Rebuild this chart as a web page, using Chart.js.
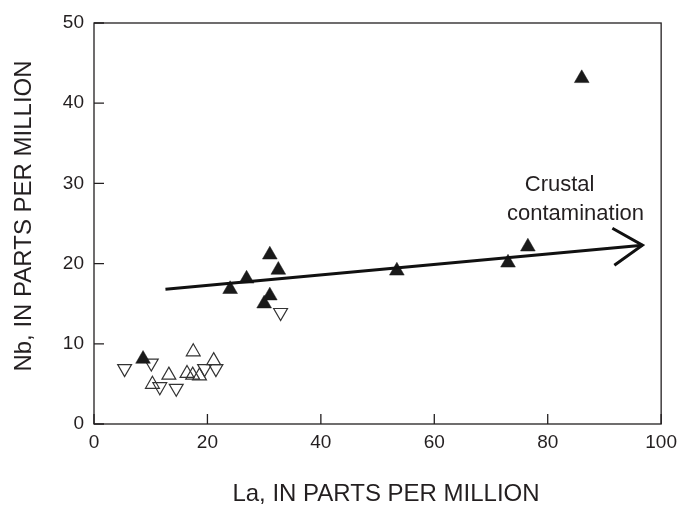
<!DOCTYPE html>
<html>
<head>
<meta charset="utf-8">
<script src="https://cdn.jsdelivr.net/npm/chart.js@4/dist/chart.umd.min.js"></script>
<style>
  html, body { margin: 0; padding: 0; background: #fff; }
  #wrap { width: 684px; height: 506px; }
</style>
</head>
<body>
<div id="wrap"><canvas id="chart"></canvas></div>
<script>
// filled up-triangles
const laFilled = [8.65, 24.0, 26.9, 31.0, 32.5, 30.0, 31.0, 53.4, 73.0, 76.5, 86.0];
const nbFilled = [8.1, 16.8, 18.1, 21.1, 19.2, 15.0, 16.0, 19.1, 20.1, 22.1, 43.1];
// open up-triangles
const laOpenUp = [10.3, 13.2, 16.4, 17.4, 17.5, 18.6, 21.1];
const nbOpenUp = [4.95, 6.1, 6.3, 6.1, 9.0, 6.0, 7.9];
// open down-triangles
const laOpenDown = [5.4, 10.1, 11.6, 14.5, 19.5, 21.5, 32.9];
const nbOpenDown = [6.9, 7.6, 4.65, 4.45, 6.9, 6.9, 13.9];
// crustal contamination trend + arrow head
const laTrend = [12.6, 96.7];
const nbTrend = [16.8, 22.3];
const laArrow = [91.4, 96.7, 91.75];
const nbArrow = [24.4, 22.3, 19.8];

const xTicks = [0, 20, 40, 60, 80, 100];
const yTicks = [0, 10, 20, 30, 40, 50];
const xTitle = 'La, IN PARTS PER MILLION';
const yTitle = 'Nb, IN PARTS PER MILLION';

const INK = '#231f20';
const FONT = "'Liberation Sans', Arial, Helvetica, sans-serif";

function pts(xs, ys) {
    return xs.map((x, i) => ({ x: x, y: ys[i] }));
}

// frame, inward ticks, axis titles and the annotation text
const framePlugin = {
    id: 'frame',
    afterDatasetsDraw(chart) {
        const { ctx, chartArea, scales } = chart;
        ctx.save();
        ctx.strokeStyle = INK;
        ctx.lineWidth = 1.3;
        ctx.strokeRect(chartArea.left, chartArea.top,
            chartArea.right - chartArea.left, chartArea.bottom - chartArea.top);
        ctx.beginPath();
        xTicks.forEach(v => {
            const px = scales.x.getPixelForValue(v);
            ctx.moveTo(px, chartArea.bottom);
            ctx.lineTo(px, chartArea.bottom - 10);
        });
        yTicks.forEach(v => {
            const py = scales.y.getPixelForValue(v);
            ctx.moveTo(chartArea.left, py);
            ctx.lineTo(chartArea.left + 10, py);
        });
        ctx.stroke();

        ctx.fillStyle = INK;
        ctx.textAlign = 'center';
        ctx.textBaseline = 'middle';
        ctx.font = '24px ' + FONT;
        ctx.fillText(xTitle, 386, 494);
        ctx.save();
        ctx.translate(24, 216);
        ctx.rotate(-Math.PI / 2);
        ctx.fillText(yTitle, 0, 0);
        ctx.restore();

        ctx.font = '22px ' + FONT;
        ctx.textBaseline = 'alphabetic';
        ctx.fillText('Crustal', scales.x.getPixelForValue(82.1), scales.y.getPixelForValue(29.0));
        ctx.fillText('contamination', scales.x.getPixelForValue(84.9), scales.y.getPixelForValue(25.4));
        ctx.restore();
    }
};

new Chart(document.getElementById('chart'), {
    type: 'scatter',
    data: {
        datasets: [
            {
                label: 'trend', type: 'line', data: pts(laTrend, nbTrend),
                borderColor: '#111', borderWidth: 3, pointRadius: 0, fill: false
            },
            {
                label: 'arrow', type: 'line', data: pts(laArrow, nbArrow),
                borderColor: '#111', borderWidth: 3, pointRadius: 0, fill: false,
                borderJoinStyle: 'miter'
            },
            {
                label: 'filled', data: pts(laFilled, nbFilled),
                pointStyle: 'triangle', pointRadius: 8.5,
                backgroundColor: '#1a1a1a', borderColor: '#1a1a1a', borderWidth: 0.5
            },
            {
                label: 'open up', data: pts(laOpenUp, nbOpenUp),
                pointStyle: 'triangle', pointRadius: 8,
                backgroundColor: 'rgba(0,0,0,0)', borderColor: '#333', borderWidth: 1.2
            },
            {
                label: 'open down', data: pts(laOpenDown, nbOpenDown),
                pointStyle: 'triangle', pointRadius: 8, rotation: 180,
                backgroundColor: 'rgba(0,0,0,0)', borderColor: '#333', borderWidth: 1.2
            }
        ]
    },
    options: {
        responsive: true,
        maintainAspectRatio: false,
        animation: false,
        layout: { padding: { top: 23, right: 20, left: 0, bottom: 0 } },
        plugins: {
            legend: { display: false },
            tooltip: { enabled: false }
        },
        scales: {
            x: {
                type: 'linear', min: 0, max: 100,
                afterFit: s => { s.height = 82; },
                afterBuildTicks: s => { s.ticks = xTicks.map(v => ({ value: v })); },
                grid: { display: false, drawTicks: false },
                border: { display: false },
                ticks: { color: INK, font: { family: FONT, size: 19 }, padding: 7, maxRotation: 0 }
            },
            y: {
                type: 'linear', min: 0, max: 50,
                afterFit: s => { s.width = 94; },
                afterBuildTicks: s => { s.ticks = yTicks.map(v => ({ value: v })); },
                grid: { display: false, drawTicks: false },
                border: { display: false },
                ticks: { color: INK, font: { family: FONT, size: 19 }, padding: 10 }
            }
        }
    },
    plugins: [framePlugin]
});
</script>
</body>
</html>
